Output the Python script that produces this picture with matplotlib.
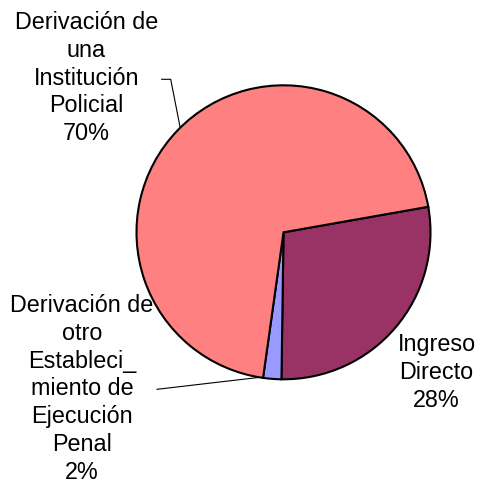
import matplotlib
matplotlib.use("Agg")
import matplotlib.pyplot as plt

# slices, clockwise from the right-hand edge
categorias = ["Ingreso\nDirecto",
              "Derivación de\notro\nEstableci_\nmiento de\nEjecución\nPenal",
              "Derivación de\nuna\nInstitución\nPolicial"]
porcentajes = [28, 2, 70]
colores = ["#993366", "#9999FF", "#FF8080"]

plt.rcParams['font.family'] = ['Liberation Sans', 'DejaVu Sans']

W, H = 481, 491
fig = plt.figure(figsize=(W / 100, H / 100), dpi=100)
ax = fig.add_axes([0, 0, 1, 1])

ax.pie(porcentajes, colors=colores, startangle=10.0, counterclock=False,
       center=(283.5, H - 232.3), radius=147, frame=True,
       wedgeprops=dict(edgecolor="black", linewidth=1.5))
ax.set_xlim(0, W)
ax.set_ylim(0, H)
ax.axis("off")

# label positions (pixels, from top-left)
pos = [(436.5, 372.5), (82, 389), (86.5, 78)]
for nombre, val, (x, y) in zip(categorias, porcentajes, pos):
    ax.text(x, H - y, "%s\n%d%%" % (nombre, val), ha="center", va="center",
            fontsize=16.8, linespacing=1.26)

# leader lines
ax.plot([161.7, 170.7, 180], [H - 79.3, H - 79.3, H - 126.7], color="black", lw=0.8)
ax.plot([157, 260], [H - 389.3, H - 377.3], color="black", lw=0.8)

fig.savefig("out.png", dpi=100)
